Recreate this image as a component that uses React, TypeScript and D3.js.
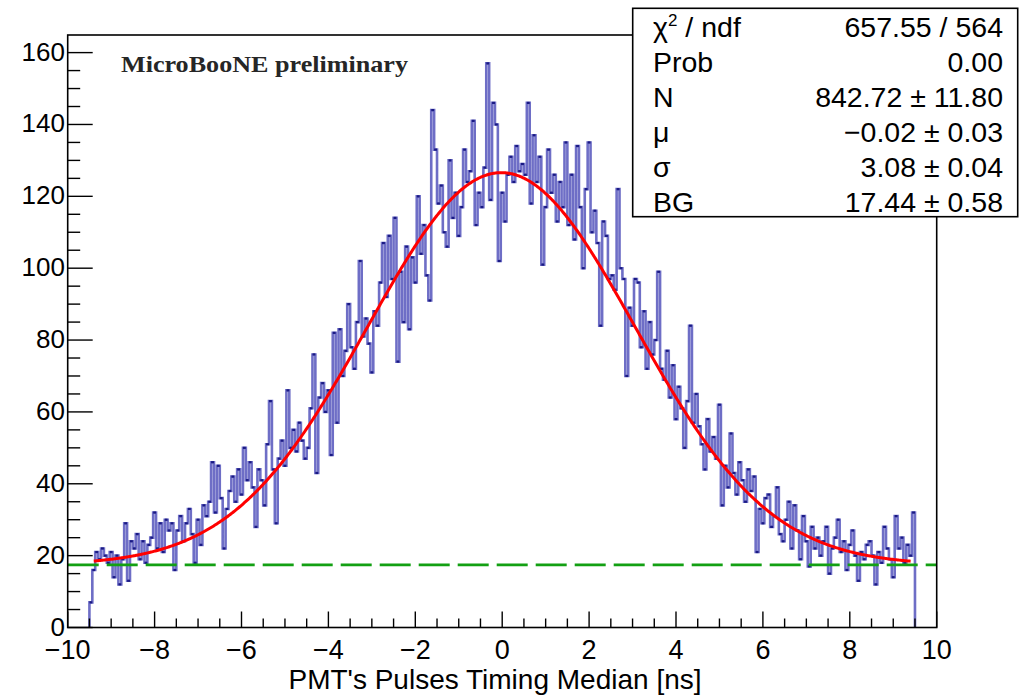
import React from "react";
import * as d3 from "d3";

// Histogram: 285 bins of width 1/15 ns from -9.5 to 9.5 ns
const histLow = -9.5;
const histHigh = 9.5;
const counts: number[] = [
  7, 16, 21, 19, 22, 20, 18, 21, 14, 20, 12, 19, 29, 13, 24,
  22, 26, 19, 24, 18, 23, 25, 32, 22, 29, 21, 30, 27, 29, 16,
  27, 31, 24, 29, 33, 26, 18, 30, 23, 34, 31, 35, 46, 32, 45,
  36, 22, 33, 38, 42, 35, 44, 37, 50, 41, 46, 39, 28, 44, 41,
  34, 51, 63, 44, 29, 47, 52, 45, 66, 50, 55, 49, 57, 52, 47,
  50, 61, 76, 43, 64, 68, 60, 66, 48, 82, 57, 83, 70, 77, 90,
  78, 72, 85, 102, 81, 86, 79, 71, 88, 84, 96, 107, 92, 109, 97,
  114, 74, 99, 85, 106, 83, 103, 96, 120, 104, 112, 98, 91, 144, 133,
  118, 123, 110, 106, 130, 114, 121, 109, 117, 133, 124, 127, 141, 112, 121,
  117, 128, 157, 119, 146, 140, 102, 121, 113, 126, 131, 124, 134, 127, 129,
  126, 146, 118, 137, 124, 131, 101, 117, 133, 121, 126, 113, 124, 117, 135,
  112, 126, 108, 134, 117, 100, 122, 135, 110, 116, 107, 84, 113, 109, 97,
  98, 94, 122, 100, 97, 70, 89, 84, 97, 96, 78, 88, 72, 85, 76,
  80, 99, 72, 69, 77, 64, 73, 58, 67, 61, 50, 63, 84, 57, 65,
  56, 51, 44, 58, 49, 53, 47, 62, 34, 45, 39, 54, 43, 37, 46,
  41, 35, 44, 38, 42, 21, 33, 29, 36, 37, 28, 31, 39, 26, 24,
  30, 35, 22, 34, 27, 19, 31, 24, 17, 28, 22, 25, 20, 24, 28,
  15, 22, 25, 30, 21, 24, 16, 23, 27, 20, 13, 21, 19, 23, 24,
  20, 12, 21, 18, 28, 22, 19, 14, 31, 22, 25, 18, 23, 20, 32,
];

// Fit parameters (gaus + constant background)
const fitN = 842.72;
const fitMu = -0.02;
const fitSigma = 3.08;
const fitBG = 17.44;
const fitRange = [-9.4, 9.4];

const xTicks = [-10, -8, -6, -4, -2, 0, 2, 4, 6, 8, 10];
const yTicks = [0, 20, 40, 60, 80, 100, 120, 140, 160];

const statLabels = ["χ2 / ndf", "Prob", "N", "μ", "σ", "BG"];
const statValues = ["657.55 / 564", "0.00", "842.72 ± 11.80", "−0.02 ± 0.03", "3.08 ± 0.04", "17.44 ± 0.58"];

const xTitle = "PMT's Pulses Timing Median [ns]";
const watermark = "MicroBooNE preliminary";

const W = 1020;
const H = 695;
const frame = { left: 67.7, right: 936.7, top: 35, bottom: 627.5 };

export default function App() {
  const x = d3.scaleLinear().domain([-10, 10]).range([frame.left, frame.right]);
  const y = d3.scaleLinear().domain([0, 164.9]).range([frame.bottom, frame.top]);

  const binW = (histHigh - histLow) / counts.length;

  // step outline
  const pts: [number, number][] = [[histLow, 0]];
  counts.forEach((c, i) => {
    const x0 = histLow + i * binW;
    pts.push([x0, c]);
    pts.push([x0 + binW, c]);
  });
  pts.push([histHigh, 0]);
  const stepLine = d3
    .line<[number, number]>()
    .x((d) => x(d[0]))
    .y((d) => y(d[1]));

  const fitF = (t: number) =>
    fitBG + (fitN / (fitSigma * Math.sqrt(2 * Math.PI))) * Math.exp(-((t - fitMu) ** 2) / (2 * fitSigma * fitSigma));
  const fitPts: [number, number][] = d3
    .range(fitRange[0], fitRange[1] + 1e-9, 0.02)
    .map((t) => [t, fitF(t)] as [number, number]);
  const fitLine = d3
    .line<[number, number]>()
    .x((d) => x(d[0]))
    .y((d) => y(d[1]));

  const xMinor = d3.range(-10, 10.001, 0.5);
  const yMinor = d3.range(0, 164, 5);

  const font = "'Liberation Sans', Arial, Helvetica, sans-serif";
  const statRowY = [36.5, 72, 107, 142, 177, 211.5];
  const statFont = 28.5;

  return (
    <svg
      width={W}
      height={H}
      viewBox={`0 0 ${W} ${H}`}
      style={{ position: "absolute", left: 0, top: 0, background: "#fff" }}
    >
      <rect x={0} y={0} width={W} height={H} fill="#fff" />

      {/* histogram outline */}
      <path
        d={stepLine(pts) || ""}
        fill="none"
        stroke="#3636b0"
        strokeOpacity={0.72}
        strokeWidth={2.6}
      />
      {/* bin tops */}
      {counts.map((c, i) => {
        const x0 = histLow + i * binW;
        return (
          <line
            key={"b" + i}
            x1={x(x0)}
            x2={x(x0 + binW)}
            y1={y(c)}
            y2={y(c)}
            stroke="#1a1a84"
            strokeWidth={2.2}
          />
        );
      })}

      {/* background level */}
      <line
        x1={x(-10)}
        x2={x(10)}
        y1={y(fitBG)}
        y2={y(fitBG)}
        stroke="#13a013"
        strokeWidth={2.6}
        strokeDasharray="31 8"
      />

      {/* fit */}
      <path d={fitLine(fitPts) || ""} fill="none" stroke="#ff0000" strokeWidth={3} />

      {/* frame */}
      <rect
        x={frame.left}
        y={frame.top}
        width={frame.right - frame.left}
        height={frame.bottom - frame.top}
        fill="none"
        stroke="#000"
        strokeWidth={1.6}
      />

      {/* x ticks */}
      {xMinor.map((v, i) => {
        const major = Math.abs(v % 2) < 1e-6;
        return (
          <line
            key={"xt" + i}
            x1={x(v)}
            x2={x(v)}
            y1={frame.bottom}
            y2={frame.bottom - (major ? 16 : 9)}
            stroke="#000"
            strokeWidth={1.4}
          />
        );
      })}
      {xTicks.map((v) => (
        <text
          key={"xl" + v}
          x={x(v)}
          y={659}
          textAnchor="middle"
          fontFamily={font}
          fontSize={27}
          fill="#000"
        >
          {v < 0 ? "\u2212" + Math.abs(v) : String(v)}
        </text>
      ))}

      {/* y ticks */}
      {yMinor.map((v, i) => {
        const major = v % 20 === 0;
        return (
          <line
            key={"yt" + i}
            x1={frame.left}
            x2={frame.left + (major ? 25 : 12.5)}
            y1={y(v)}
            y2={y(v)}
            stroke="#000"
            strokeWidth={1.4}
          />
        );
      })}
      {yTicks.map((v) => (
        <text
          key={"yl" + v}
          x={65}
          y={y(v) + 8}
          textAnchor="end"
          fontFamily={font}
          fontSize={26}
          fill="#000"
        >
          {v}
        </text>
      ))}

      {/* axis title */}
      <text x={495} y={689} textAnchor="middle" fontFamily={font} fontSize={28} fill="#000">
        {xTitle}
      </text>

      {/* watermark */}
      <text
        x={121}
        y={72}
        fontFamily="'Liberation Serif', 'Times New Roman', serif"
        fontWeight="bold"
        fontSize={24}
        fill="#262626"
        textLength={287}
        lengthAdjust="spacingAndGlyphs"
      >
        {watermark}
      </text>

      {/* stats box */}
      <rect x={632.7} y={8.3} width={385} height={208.4} fill="#fff" stroke="#000" strokeWidth={1.6} />
      {statLabels.map((lab, i) => (
        <text key={"sl" + i} x={653} y={statRowY[i]} fontFamily={font} fontSize={statFont} fill="#000">
          {i === 0 ? (
            <>
              χ<tspan fontSize={17} dy={-11}>2</tspan>
              <tspan dy={11}> / ndf</tspan>
            </>
          ) : (
            lab
          )}
        </text>
      ))}
      {statValues.map((val, i) => (
        <text
          key={"sv" + i}
          x={1003}
          y={statRowY[i]}
          textAnchor="end"
          fontFamily={font}
          fontSize={statFont}
          fill="#000"
        >
          {val}
        </text>
      ))}
    </svg>
  );
}
